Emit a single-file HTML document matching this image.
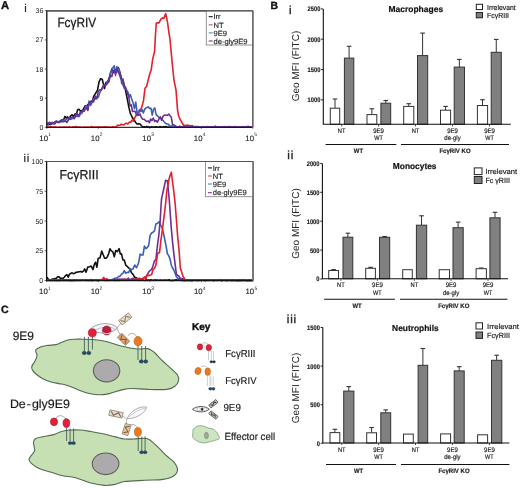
<!DOCTYPE html>
<html><head><meta charset="utf-8"><style>
html,body{margin:0;padding:0;background:#fff;width:520px;height:488px;overflow:hidden;font-family:"Liberation Sans",sans-serif;}
svg{display:block;filter:blur(0.3px);}
</style></head><body>
<svg width="520" height="488" viewBox="0 0 520 488" text-rendering="geometricPrecision">
<polyline points="46.80,123.82 48.07,124.63 49.33,124.28 50.60,124.49 52.13,123.43 53.67,123.49 55.20,121.81 56.44,121.07 57.68,122.20 58.92,121.81 60.16,121.88 61.40,120.07 62.62,120.11 63.84,119.12 65.06,116.43 66.28,118.11 67.50,116.95 69.07,119.44 70.63,115.80 72.20,114.78 73.70,116.21 75.20,113.83 76.47,113.56 77.73,109.66 79.00,109.25 80.33,111.15 81.67,110.73 83.00,109.86 85.20,105.70 86.47,107.21 87.73,104.63 89.00,104.27 90.60,101.62 92.20,101.98 93.70,96.44 95.20,93.94 97.50,90.26 99.05,81.83 100.60,78.72 102.20,79.31 104.50,88.53 106.00,82.40 107.50,82.43 109.05,78.60 110.60,72.89 112.15,68.56 113.70,72.51 115.23,69.51 116.77,71.97 118.30,67.55 119.90,72.24 121.50,78.75 123.50,86.13 125.00,87.65 127.00,97.59 129.00,107.91 130.25,113.06 131.50,115.74 132.75,118.39 134.00,119.46 135.50,122.31 137.00,123.94 138.50,123.67 140.00,124.04 141.50,125.71 143.00,127.11 144.21,126.90 145.42,127.12 146.63,126.36 147.84,127.18 149.06,126.90 150.27,127.22 151.48,126.80 152.69,126.94 153.90,127.02 155.11,127.09 156.32,126.85 157.53,127.03 158.74,127.19 159.96,126.60 161.17,127.16 162.38,127.06 163.59,126.65 164.80,126.99 166.01,126.53 167.22,127.29 168.43,126.94 169.64,127.30 170.86,127.25 172.07,127.23 173.28,127.23 174.49,126.92 175.70,126.49 176.91,127.11 178.12,127.21 179.33,126.66 180.54,126.60 181.76,127.18 182.97,126.90 184.18,127.07 185.39,127.08 186.60,127.16 187.81,126.80 189.02,127.09 190.23,127.21 191.44,126.89 192.66,126.98 193.87,127.18 195.08,126.91 196.29,126.98 197.50,126.67 198.71,127.25 199.92,127.26 201.13,127.21 202.34,127.00 203.56,126.69 204.77,127.25 205.98,127.17 207.19,127.09 208.40,126.99 209.61,126.71 210.82,127.01 212.03,127.17 213.24,126.91 214.46,126.94 215.67,126.29 216.88,127.20 218.09,127.25 219.30,126.74 220.51,127.12 221.72,127.19 222.93,127.09 224.14,127.17 225.36,127.27 226.57,126.83 227.78,127.12 228.99,127.02 230.20,127.14 231.41,127.06 232.62,126.98 233.83,126.95 235.04,126.60 236.26,127.09 237.47,127.01 238.68,126.97 239.89,127.22 241.10,127.24 242.31,126.67 243.52,126.99 244.73,127.14 245.94,126.66 247.16,127.04 248.37,126.89 249.58,127.23 250.79,126.97 252.00,127.08" fill="none" stroke="#111" stroke-width="1.6" stroke-linejoin="round"/>
<polyline points="46.80,126.92 48.01,127.30 49.22,126.83 50.43,126.85 51.64,126.86 52.85,127.23 54.05,127.04 55.26,126.92 56.47,127.10 57.68,127.21 58.89,127.30 60.10,127.16 61.31,127.21 62.52,127.26 63.73,127.04 64.94,127.12 66.15,127.17 67.35,127.27 68.56,127.06 69.77,126.91 70.98,127.25 72.19,127.12 73.40,126.83 74.61,127.12 75.82,126.56 77.03,126.75 78.24,127.17 79.45,126.92 80.65,127.13 81.86,127.20 83.07,127.24 84.28,126.93 85.49,127.09 86.70,127.23 87.91,127.16 89.12,127.19 90.33,126.98 91.54,126.52 92.75,127.20 93.95,127.08 95.16,127.11 96.37,126.96 97.58,127.27 98.79,126.77 100.00,127.24 101.25,127.06 102.50,127.12 103.75,127.02 105.00,126.86 106.25,126.92 107.50,127.26 108.75,126.96 110.00,127.09 111.25,127.18 112.50,126.85 113.75,127.04 115.00,127.17 116.23,126.73 117.47,125.23 118.70,125.35 119.93,125.31 121.17,124.20 122.40,124.61 123.78,124.89 125.15,123.86 126.53,123.30 127.90,124.03 129.30,122.12 130.70,122.21 132.10,120.02 133.50,121.22 134.83,117.65 136.17,115.18 137.50,115.45 138.70,112.75 139.90,110.61 141.70,107.45 143.50,100.58 145.05,87.97 146.60,86.52 148.15,80.13 149.70,74.00 151.20,69.95 152.70,59.12 154.60,51.19 155.50,34.22 156.30,22.98 157.53,22.74 158.75,23.00 161.00,19.07 162.38,17.90 163.75,18.41 165.75,13.59 167.50,22.14 168.75,31.50 170.00,39.20 172.20,63.11 174.00,80.37 176.00,89.93 177.50,109.57 178.50,115.50 180.00,119.22 181.25,121.40 182.50,123.52 183.75,125.63 185.00,125.21 186.25,125.73 187.50,125.07 188.75,125.70 190.00,125.56 191.25,125.86 192.50,125.63 193.75,126.53 195.00,127.17 196.25,126.51 197.50,126.71 198.75,126.78 200.00,127.03 201.21,127.14 202.42,126.87 203.63,127.00 204.84,127.05 206.05,127.29 207.26,126.95 208.47,127.17 209.67,127.18 210.88,126.70 212.09,126.97 213.30,126.74 214.51,126.61 215.72,127.27 216.93,127.23 218.14,126.97 219.35,126.79 220.56,127.23 221.77,126.89 222.98,127.06 224.19,127.00 225.40,127.22 226.60,127.04 227.81,126.91 229.02,127.23 230.23,126.69 231.44,127.12 232.65,126.69 233.86,127.02 235.07,127.23 236.28,127.06 237.49,127.03 238.70,127.28 239.91,126.83 241.12,127.07 242.33,126.89 243.53,127.07 244.74,127.23 245.95,127.16 247.16,126.54 248.37,126.34 249.58,127.08 250.79,127.01 252.00,127.16" fill="none" stroke="#e3202c" stroke-width="1.6" stroke-linejoin="round"/>
<polyline points="46.80,123.58 48.00,124.31 49.20,122.29 50.40,123.71 51.60,122.42 52.80,122.20 54.00,123.94 55.20,122.15 56.50,121.79 57.80,122.36 59.10,122.59 60.40,121.30 61.70,121.75 63.00,120.01 64.27,120.39 65.53,120.07 66.80,118.87 68.07,118.42 69.33,118.02 70.60,119.33 71.84,118.78 73.08,117.96 74.32,117.83 75.56,115.32 76.80,116.39 78.04,116.25 79.28,116.43 80.52,113.39 81.76,113.46 83.00,110.17 84.20,111.06 85.40,106.21 86.60,105.97 87.80,109.74 89.00,100.99 90.57,105.48 92.13,102.38 93.70,98.92 95.23,99.07 96.77,97.69 98.30,97.28 99.87,92.43 101.43,89.57 103.00,87.48 104.50,84.61 106.00,84.64 107.50,80.98 109.05,81.93 110.60,72.42 111.80,70.66 113.00,67.52 114.27,65.83 115.53,75.36 116.80,66.74 119.00,69.78 120.50,75.75 121.73,83.58 122.97,78.70 124.20,88.44 125.43,86.97 126.67,90.69 127.90,92.03 129.13,96.73 130.37,94.68 131.60,98.83 133.00,102.57 134.40,108.62 135.75,102.10 137.10,113.07 138.33,112.22 139.57,109.78 140.80,111.57 142.03,109.51 143.27,113.05 144.50,109.62 145.73,108.12 146.97,107.45 148.20,106.86 149.60,108.34 151.00,108.39 152.23,115.12 153.47,109.25 154.70,107.93 156.23,114.85 157.77,116.06 159.30,117.99 160.83,118.49 162.37,119.80 163.90,121.53 165.70,123.56 167.50,123.92 168.75,124.50 170.00,126.53 171.25,126.10 172.50,125.73 173.75,127.23 175.00,127.05 176.20,126.99 177.41,127.00 178.61,127.07 179.81,126.71 181.02,127.18 182.22,127.11 183.42,127.19 184.62,126.68 185.83,126.90 187.03,126.81 188.23,127.20 189.44,127.15 190.64,127.14 191.84,126.70 193.05,127.26 194.25,126.98 195.45,126.98 196.66,127.12 197.86,126.64 199.06,126.88 200.27,127.28 201.47,127.27 202.67,126.62 203.88,127.05 205.08,126.93 206.28,127.27 207.48,126.54 208.69,127.05 209.89,127.20 211.09,126.73 212.30,127.03 213.50,126.86 214.70,127.01 215.91,127.27 217.11,127.16 218.31,127.09 219.52,126.88 220.72,127.11 221.92,127.15 223.12,126.68 224.33,126.57 225.53,127.09 226.73,127.02 227.94,126.55 229.14,126.70 230.34,126.85 231.55,127.25 232.75,127.27 233.95,127.29 235.16,127.09 236.36,127.14 237.56,126.81 238.77,126.94 239.97,127.24 241.17,126.85 242.38,127.12 243.58,127.16 244.78,127.08 245.98,127.04 247.19,127.00 248.39,127.23 249.59,126.98 250.80,127.16 252.00,126.89" fill="none" stroke="#3b5fb5" stroke-width="1.6" stroke-linejoin="round"/>
<polyline points="46.80,123.03 48.17,123.31 49.53,122.44 50.90,123.05 52.27,123.47 53.63,122.94 55.00,123.88 56.33,121.54 57.67,122.23 59.00,121.35 60.33,121.09 61.67,121.49 63.00,121.71 64.27,121.42 65.53,121.04 66.80,122.46 68.07,120.48 69.33,117.11 70.60,118.75 71.84,117.21 73.08,116.82 74.32,118.77 75.56,116.19 76.80,113.19 78.04,115.77 79.28,114.15 80.52,112.00 81.76,111.65 83.00,111.41 84.20,110.96 85.40,108.65 86.60,108.15 87.80,110.51 89.00,103.25 90.57,101.40 92.13,100.79 93.70,101.89 95.23,96.12 96.77,98.97 98.30,91.14 99.87,89.74 101.43,89.88 103.00,86.11 104.50,84.65 106.00,84.99 107.50,83.58 109.05,79.25 110.60,75.40 111.80,76.44 113.00,71.88 114.27,70.49 115.53,73.65 116.80,69.03 119.00,73.36 120.75,78.19 122.50,80.48 123.75,82.58 125.00,87.93 126.25,89.32 127.50,93.37 128.75,96.60 130.00,105.85 131.25,104.92 132.50,111.58 133.75,111.23 135.00,111.28 136.25,114.13 137.50,114.44 138.75,115.20 140.00,114.02 141.25,117.10 142.50,119.14 143.93,119.22 145.35,120.41 146.77,121.53 148.20,120.93 149.43,122.67 150.67,119.13 151.90,120.55 153.28,118.05 154.65,121.41 156.03,120.53 157.40,122.11 158.80,119.31 160.20,116.78 161.60,120.14 163.00,116.30 164.50,115.00 166.00,115.24 167.50,115.25 168.75,114.09 170.00,115.78 171.25,117.06 172.50,124.46 174.25,125.11 176.00,126.51 177.21,127.17 178.41,127.26 179.62,126.42 180.83,127.14 182.03,127.25 183.24,127.21 184.44,127.15 185.65,127.19 186.86,126.79 188.06,127.20 189.27,127.10 190.48,127.22 191.68,127.00 192.89,126.96 194.10,127.28 195.30,126.50 196.51,127.29 197.71,127.27 198.92,127.25 200.13,127.27 201.33,127.18 202.54,127.18 203.75,127.08 204.95,126.73 206.16,126.98 207.37,126.99 208.57,127.13 209.78,127.14 210.98,127.15 212.19,127.02 213.40,126.83 214.60,126.92 215.81,126.88 217.02,127.22 218.22,127.21 219.43,127.28 220.63,126.96 221.84,127.07 223.05,126.98 224.25,126.94 225.46,127.09 226.67,127.05 227.87,127.25 229.08,126.88 230.29,126.63 231.49,127.26 232.70,127.23 233.90,127.17 235.11,126.97 236.32,127.21 237.52,127.23 238.73,127.01 239.94,127.26 241.14,126.90 242.35,127.15 243.56,127.27 244.76,126.93 245.97,126.98 247.17,126.98 248.38,127.02 249.59,126.67 250.79,127.02 252.00,127.28" fill="none" stroke="#6b2f95" stroke-width="1.6" stroke-linejoin="round"/>
<line x1="46.80" y1="10.20" x2="46.80" y2="127.90" stroke="#111" stroke-width="1.3"/>
<line x1="46.20" y1="127.30" x2="252.80" y2="127.30" stroke="#111" stroke-opacity="0.85" stroke-width="1.3"/>
<line x1="46.80" y1="10.80" x2="252.80" y2="10.80" stroke="#555" stroke-width="1.2"/>
<line x1="252.80" y1="10.80" x2="252.80" y2="127.30" stroke="#666" stroke-width="1.3"/>
<line x1="44.80" y1="10.80" x2="46.80" y2="10.80" stroke="#222" stroke-width="0.7"/>
<text x="43.40" y="13.30" font-size="7.0" text-anchor="end" fill="#222" font-family="Liberation Sans, sans-serif">36</text>
<line x1="44.80" y1="39.92" x2="46.80" y2="39.92" stroke="#222" stroke-width="0.7"/>
<text x="43.40" y="42.42" font-size="7.0" text-anchor="end" fill="#222" font-family="Liberation Sans, sans-serif">27</text>
<line x1="44.80" y1="69.05" x2="46.80" y2="69.05" stroke="#222" stroke-width="0.7"/>
<text x="43.40" y="71.55" font-size="7.0" text-anchor="end" fill="#222" font-family="Liberation Sans, sans-serif">18</text>
<line x1="44.80" y1="98.17" x2="46.80" y2="98.17" stroke="#222" stroke-width="0.7"/>
<text x="43.40" y="100.67" font-size="7.0" text-anchor="end" fill="#222" font-family="Liberation Sans, sans-serif">9</text>
<line x1="44.80" y1="127.30" x2="46.80" y2="127.30" stroke="#222" stroke-width="0.7"/>
<text x="43.40" y="129.80" font-size="7.0" text-anchor="end" fill="#222" font-family="Liberation Sans, sans-serif">0</text>
<text x="48.00" y="140.90" font-size="7.8" text-anchor="end" fill="#222" stroke="#222" stroke-width="0.12" font-family="Liberation Sans, sans-serif">10</text>
<text x="48.20" y="136.30" font-size="4.9" fill="#222" font-family="Liberation Sans, sans-serif">1</text>
<line x1="46.80" y1="127.30" x2="46.80" y2="128.90" stroke="#222" stroke-width="0.6"/>
<text x="99.50" y="140.90" font-size="7.8" text-anchor="end" fill="#222" stroke="#222" stroke-width="0.12" font-family="Liberation Sans, sans-serif">10</text>
<text x="99.70" y="136.30" font-size="4.9" fill="#222" font-family="Liberation Sans, sans-serif">2</text>
<line x1="98.30" y1="127.30" x2="98.30" y2="128.90" stroke="#222" stroke-width="0.6"/>
<text x="151.00" y="140.90" font-size="7.8" text-anchor="end" fill="#222" stroke="#222" stroke-width="0.12" font-family="Liberation Sans, sans-serif">10</text>
<text x="151.20" y="136.30" font-size="4.9" fill="#222" font-family="Liberation Sans, sans-serif">3</text>
<line x1="149.80" y1="127.30" x2="149.80" y2="128.90" stroke="#222" stroke-width="0.6"/>
<text x="202.50" y="140.90" font-size="7.8" text-anchor="end" fill="#222" stroke="#222" stroke-width="0.12" font-family="Liberation Sans, sans-serif">10</text>
<text x="202.70" y="136.30" font-size="4.9" fill="#222" font-family="Liberation Sans, sans-serif">4</text>
<line x1="201.30" y1="127.30" x2="201.30" y2="128.90" stroke="#222" stroke-width="0.6"/>
<text x="254.00" y="140.90" font-size="7.8" text-anchor="end" fill="#222" stroke="#222" stroke-width="0.12" font-family="Liberation Sans, sans-serif">10</text>
<text x="254.20" y="136.30" font-size="4.9" fill="#222" font-family="Liberation Sans, sans-serif">5</text>
<line x1="252.80" y1="127.30" x2="252.80" y2="128.90" stroke="#222" stroke-width="0.6"/>
<rect x="206.30" y="10.80" width="46.50" height="34.20" fill="#fff" stroke="#8a8a8a" stroke-width="0.9"/>
<line x1="208.70" y1="16.70" x2="212.70" y2="16.70" stroke="#111" stroke-width="1.1"/>
<text x="213.50" y="19.40" font-size="7.55" fill="#222" stroke="#222" stroke-width="0.15" font-family="Liberation Sans, sans-serif">Irr</text>
<line x1="208.70" y1="24.80" x2="212.70" y2="24.80" stroke="#e0505a" stroke-width="1.1"/>
<text x="213.50" y="27.50" font-size="7.55" fill="#222" stroke="#222" stroke-width="0.15" font-family="Liberation Sans, sans-serif">NT</text>
<line x1="208.70" y1="32.90" x2="212.70" y2="32.90" stroke="#5a80c0" stroke-width="1.1"/>
<text x="213.50" y="35.60" font-size="7.55" fill="#222" stroke="#222" stroke-width="0.15" font-family="Liberation Sans, sans-serif">9E9</text>
<line x1="208.70" y1="41.00" x2="212.70" y2="41.00" stroke="#7a3a90" stroke-width="1.1"/>
<text x="213.50" y="43.70" font-size="7.55" fill="#222" stroke="#222" stroke-width="0.15" font-family="Liberation Sans, sans-serif">de-gly9E9</text>
<line x1="252.80" y1="10.80" x2="252.80" y2="127.30" stroke="#666" stroke-width="1.3"/>
<line x1="46.80" y1="10.80" x2="252.80" y2="10.80" stroke="#555" stroke-width="1.2"/>
<text x="57.40" y="26.50" font-size="13.40" fill="#1a1a1a" textLength="38.80" lengthAdjust="spacingAndGlyphs" font-family="Liberation Sans, sans-serif" stroke="#1a1a1a" stroke-width="0.25">Fc&#947;RIV</text>
<text x="24.20" y="12.20" font-size="11.2" letter-spacing="0.9" fill="#222" stroke="#222" stroke-width="0.2" font-family="Liberation Sans, sans-serif">i</text>
<polyline points="46.80,277.16 48.27,279.07 49.73,280.21 51.20,279.94 52.50,279.03 53.80,278.96 55.10,278.57 56.40,278.30 57.73,276.75 59.05,276.83 60.38,278.37 61.70,278.33 63.00,278.38 64.30,277.26 65.60,275.58 66.90,274.64 68.20,277.18 69.50,274.16 70.80,273.43 72.10,272.83 73.40,273.65 74.70,273.26 76.00,272.25 77.30,272.13 79.05,271.69 80.80,271.42 82.10,272.16 83.40,271.22 84.70,268.90 86.00,272.28 87.75,267.15 89.50,266.72 91.25,266.06 93.00,269.60 94.30,264.34 95.60,262.24 96.90,267.26 98.20,258.19 99.95,257.99 101.70,251.11 103.17,254.80 104.63,258.31 106.10,258.10 107.40,256.68 108.70,253.66 110.00,248.80 111.30,250.83 112.90,251.93 114.30,256.74 115.70,250.50 117.40,251.65 119.10,248.71 120.30,254.03 121.50,253.88 122.90,259.88 124.30,259.93 125.75,265.22 127.20,266.31 128.65,267.92 130.10,269.14 131.55,272.92 133.00,274.29 134.75,277.37 136.50,277.84 137.75,279.62 139.00,280.44 140.20,279.94 141.40,279.28 142.61,280.11 143.81,280.30 145.01,280.44 146.21,279.75 147.41,280.46 148.62,279.96 149.82,280.29 151.02,279.75 152.22,280.18 153.43,280.07 154.63,279.92 155.83,280.09 157.03,279.96 158.23,280.19 159.44,280.20 160.64,280.15 161.84,280.26 163.04,280.26 164.24,280.08 165.45,280.26 166.65,280.06 167.85,280.26 169.05,279.78 170.26,280.47 171.46,280.45 172.66,280.16 173.86,280.46 175.06,280.04 176.27,279.88 177.47,280.26 178.67,280.00 179.87,280.21 181.07,280.03 182.28,280.41 183.48,280.25 184.68,280.47 185.88,280.37 187.09,280.11 188.29,279.91 189.49,279.98 190.69,280.50 191.89,280.45 193.10,280.33 194.30,280.00 195.50,280.44 196.70,280.30 197.90,280.07 199.11,280.21 200.31,279.81 201.51,280.24 202.71,280.26 203.91,280.04 205.12,280.38 206.32,280.15 207.52,280.23 208.72,279.77 209.93,280.25 211.13,280.26 212.33,280.24 213.53,280.35 214.73,280.23 215.94,280.19 217.14,280.15 218.34,279.92 219.54,280.29 220.74,279.67 221.95,280.46 223.15,280.29 224.35,280.23 225.55,280.41 226.76,280.42 227.96,280.15 229.16,280.21 230.36,280.21 231.56,280.23 232.77,279.89 233.97,280.12 235.17,280.46 236.37,280.42 237.57,280.46 238.78,280.43 239.98,280.43 241.18,280.38 242.38,280.06 243.59,280.28 244.79,279.92 245.99,280.31 247.19,280.48 248.39,280.42 249.60,280.48 250.80,280.38 252.00,280.27" fill="none" stroke="#111" stroke-width="1.6" stroke-linejoin="round"/>
<polyline points="46.80,280.38 48.01,280.07 49.22,280.04 50.44,280.17 51.65,279.84 52.86,280.33 54.07,280.45 55.29,280.24 56.50,280.49 57.71,280.37 58.92,280.35 60.14,280.17 61.35,280.46 62.56,280.15 63.77,279.98 64.99,280.37 66.20,279.96 67.41,280.09 68.62,279.79 69.84,279.72 71.05,280.40 72.26,280.07 73.47,280.33 74.69,280.01 75.90,280.04 77.11,280.36 78.32,280.40 79.54,280.22 80.75,280.17 81.96,280.33 83.17,280.10 84.39,280.23 85.60,279.65 86.81,280.46 88.03,280.36 89.24,280.42 90.45,280.47 91.66,280.48 92.88,280.34 94.09,280.35 95.30,279.81 96.51,279.86 97.72,280.50 98.94,280.07 100.15,280.28 101.36,280.22 102.58,280.02 103.79,280.35 105.00,279.93 106.25,280.27 107.50,280.31 108.75,280.11 110.00,280.49 111.20,280.32 112.40,279.27 113.60,279.07 114.80,278.19 116.00,278.00 117.20,277.74 118.62,276.54 120.04,276.14 121.46,274.26 122.88,273.35 124.30,270.57 125.77,273.24 127.23,272.34 128.70,272.51 130.13,268.66 131.57,269.72 133.00,268.86 134.75,265.00 136.50,267.69 138.70,262.47 140.13,254.05 141.57,255.01 143.00,255.00 144.43,246.05 145.87,248.56 147.30,247.50 148.73,245.25 150.17,235.18 151.60,232.98 153.05,232.22 154.50,230.84 155.90,223.90 157.30,223.58 159.10,221.71 160.90,225.62 162.30,228.21 164.50,238.04 165.95,245.40 167.40,253.75 168.70,255.64 170.00,259.01 171.30,265.21 172.55,268.03 173.80,270.04 175.10,273.21 176.40,276.75 177.70,278.18 179.13,278.68 180.57,279.87 182.00,280.43 183.21,279.89 184.41,280.47 185.62,280.49 186.83,280.23 188.03,280.45 189.24,280.09 190.45,279.78 191.66,280.49 192.86,279.82 194.07,280.28 195.28,280.21 196.48,279.91 197.69,280.47 198.90,280.23 200.10,280.47 201.31,279.77 202.52,280.32 203.72,280.28 204.93,280.45 206.14,280.22 207.34,280.22 208.55,280.33 209.76,280.07 210.97,279.87 212.17,280.36 213.38,280.43 214.59,280.35 215.79,280.25 217.00,280.34 218.21,280.19 219.41,280.23 220.62,279.84 221.83,280.41 223.03,280.37 224.24,279.94 225.45,280.28 226.66,280.20 227.86,280.43 229.07,280.48 230.28,280.37 231.48,280.35 232.69,280.39 233.90,280.33 235.10,280.11 236.31,280.36 237.52,280.26 238.72,280.38 239.93,280.02 241.14,280.46 242.34,280.48 243.55,280.07 244.76,280.12 245.97,280.48 247.17,280.48 248.38,280.18 249.59,280.48 250.79,280.39 252.00,280.39" fill="none" stroke="#3b5fb5" stroke-width="1.6" stroke-linejoin="round"/>
<polyline points="46.80,280.06 48.01,280.04 49.22,280.03 50.43,280.38 51.64,280.44 52.85,280.42 54.05,280.21 55.26,280.27 56.47,280.24 57.68,280.47 58.89,280.48 60.10,279.92 61.31,280.31 62.52,280.07 63.73,280.49 64.94,280.23 66.15,279.61 67.35,280.49 68.56,279.97 69.77,280.49 70.98,280.49 72.19,280.24 73.40,280.49 74.61,279.70 75.82,280.44 77.03,279.94 78.24,280.10 79.45,280.20 80.65,280.27 81.86,280.04 83.07,279.82 84.28,280.31 85.49,280.47 86.70,279.89 87.91,280.33 89.12,280.25 90.33,279.62 91.54,279.84 92.75,280.40 93.95,279.80 95.16,280.24 96.37,280.16 97.58,280.34 98.79,279.95 100.00,280.21 101.23,280.03 102.46,280.25 103.69,280.14 104.91,280.43 106.14,280.47 107.37,280.42 108.60,280.24 109.83,280.20 111.06,279.73 112.29,279.70 113.51,279.83 114.74,279.01 115.97,279.86 117.20,279.12 118.43,279.51 119.66,279.00 120.89,279.59 122.11,279.26 123.34,279.27 124.57,278.94 125.80,279.37 127.03,280.16 128.26,278.15 129.49,279.43 130.71,279.21 131.94,278.79 133.17,278.20 134.40,279.85 135.63,278.96 136.86,279.40 138.09,278.50 139.31,278.20 140.54,279.29 141.77,279.02 143.00,278.31 144.50,277.18 146.00,276.68 147.50,274.26 148.87,271.77 150.23,270.35 151.60,269.62 153.03,265.84 154.47,260.84 155.90,259.49 157.35,246.24 158.80,235.46 160.20,220.02 161.50,198.95 163.60,189.49 165.60,180.40 167.40,180.77 169.20,199.00 171.30,228.20 172.55,242.00 173.80,253.67 175.10,263.87 176.40,274.34 177.70,275.40 179.00,276.27 180.30,278.55 181.87,278.60 183.43,279.17 185.00,280.18 186.22,280.23 187.44,280.32 188.65,280.33 189.87,280.48 191.09,280.23 192.31,280.33 193.53,280.30 194.75,279.91 195.96,280.12 197.18,280.42 198.40,280.47 199.62,280.26 200.84,280.02 202.05,280.14 203.27,280.01 204.49,280.28 205.71,280.39 206.93,280.48 208.15,280.01 209.36,280.44 210.58,280.29 211.80,280.13 213.02,280.12 214.24,280.14 215.45,280.18 216.67,279.92 217.89,280.40 219.11,280.26 220.33,280.17 221.55,280.36 222.76,280.23 223.98,280.28 225.20,280.06 226.42,280.04 227.64,279.99 228.85,280.38 230.07,279.75 231.29,280.30 232.51,280.46 233.73,279.97 234.95,280.43 236.16,280.00 237.38,280.46 238.60,279.90 239.82,279.85 241.04,280.21 242.25,279.94 243.47,280.09 244.69,280.44 245.91,280.33 247.13,280.42 248.35,279.86 249.56,280.10 250.78,280.37 252.00,280.17" fill="none" stroke="#6b2f95" stroke-width="1.6" stroke-linejoin="round"/>
<polyline points="46.80,280.19 48.01,280.39 49.22,280.17 50.43,280.49 51.64,280.14 52.85,280.26 54.05,280.02 55.26,280.40 56.47,280.38 57.68,280.29 58.89,280.00 60.10,280.47 61.31,279.99 62.52,280.19 63.73,280.37 64.94,280.10 66.15,280.42 67.35,280.29 68.56,280.42 69.77,280.34 70.98,280.22 72.19,280.48 73.40,280.19 74.61,280.46 75.82,280.48 77.03,280.32 78.24,280.28 79.45,280.39 80.65,280.14 81.86,280.35 83.07,279.73 84.28,279.96 85.49,280.50 86.70,280.30 87.91,280.17 89.12,279.97 90.33,280.08 91.54,280.50 92.75,280.11 93.95,280.10 95.16,279.98 96.37,280.44 97.58,280.07 98.79,280.48 100.00,280.15 101.25,280.09 102.50,279.28 103.75,277.44 105.00,279.44 106.25,278.87 107.50,279.17 108.75,280.39 110.00,280.26 111.24,280.04 112.48,280.06 113.71,280.42 114.95,280.36 116.19,280.21 117.43,280.47 118.67,280.19 119.90,280.35 121.14,280.05 122.38,279.23 123.62,280.02 124.86,279.77 126.09,280.18 127.33,278.80 128.57,280.09 129.81,279.97 131.04,279.76 132.28,279.65 133.52,280.00 134.76,279.59 136.00,279.16 137.23,278.50 138.47,279.64 139.71,279.49 140.95,279.00 142.19,278.84 143.42,279.14 144.66,276.97 145.90,278.74 147.32,275.05 148.75,275.72 150.18,275.09 151.60,274.70 153.03,269.42 154.47,268.37 155.90,265.16 157.70,253.23 159.50,252.63 160.95,240.17 162.40,229.56 164.50,213.02 165.70,202.52 166.90,190.29 169.20,178.34 171.30,172.26 173.10,185.84 175.10,202.80 176.40,219.77 177.70,236.89 179.00,249.31 180.30,267.93 181.55,271.81 182.80,275.71 184.10,278.08 185.40,279.94 186.70,280.31 187.91,280.27 189.12,280.34 190.33,280.31 191.54,280.24 192.75,280.43 193.96,279.89 195.16,280.32 196.37,280.32 197.58,279.70 198.79,280.22 200.00,280.30 201.21,279.98 202.42,279.97 203.63,280.42 204.84,280.34 206.05,280.07 207.26,279.98 208.47,280.02 209.68,280.11 210.89,280.09 212.09,280.25 213.30,280.47 214.51,280.14 215.72,280.25 216.93,280.26 218.14,279.99 219.35,280.13 220.56,280.39 221.77,280.29 222.98,280.47 224.19,279.57 225.40,280.39 226.61,280.48 227.81,280.14 229.02,279.89 230.23,280.36 231.44,280.20 232.65,280.47 233.86,280.20 235.07,280.04 236.28,279.97 237.49,280.38 238.70,280.29 239.91,280.44 241.12,280.45 242.33,280.48 243.54,280.45 244.74,280.40 245.95,280.32 247.16,280.44 248.37,280.21 249.58,280.42 250.79,280.29 252.00,280.24" fill="none" stroke="#e3202c" stroke-width="1.6" stroke-linejoin="round"/>
<line x1="46.60" y1="160.90" x2="46.60" y2="281.10" stroke="#111" stroke-width="1.3"/>
<line x1="46.00" y1="280.50" x2="253.00" y2="280.50" stroke="#111" stroke-opacity="1.00" stroke-width="1.3"/>
<line x1="46.60" y1="161.50" x2="253.00" y2="161.50" stroke="#555" stroke-width="1.2"/>
<line x1="253.00" y1="161.50" x2="253.00" y2="280.50" stroke="#666" stroke-width="1.3"/>
<line x1="44.60" y1="161.50" x2="46.60" y2="161.50" stroke="#222" stroke-width="0.7"/>
<text x="43.20" y="164.00" font-size="7.0" text-anchor="end" fill="#222" font-family="Liberation Sans, sans-serif">100</text>
<line x1="44.60" y1="191.25" x2="46.60" y2="191.25" stroke="#222" stroke-width="0.7"/>
<text x="43.20" y="193.75" font-size="7.0" text-anchor="end" fill="#222" font-family="Liberation Sans, sans-serif">75</text>
<line x1="44.60" y1="221.00" x2="46.60" y2="221.00" stroke="#222" stroke-width="0.7"/>
<text x="43.20" y="223.50" font-size="7.0" text-anchor="end" fill="#222" font-family="Liberation Sans, sans-serif">50</text>
<line x1="44.60" y1="250.75" x2="46.60" y2="250.75" stroke="#222" stroke-width="0.7"/>
<text x="43.20" y="253.25" font-size="7.0" text-anchor="end" fill="#222" font-family="Liberation Sans, sans-serif">25</text>
<line x1="44.60" y1="280.50" x2="46.60" y2="280.50" stroke="#222" stroke-width="0.7"/>
<text x="43.20" y="283.00" font-size="7.0" text-anchor="end" fill="#222" font-family="Liberation Sans, sans-serif">0</text>
<text x="47.80" y="294.10" font-size="7.8" text-anchor="end" fill="#222" stroke="#222" stroke-width="0.12" font-family="Liberation Sans, sans-serif">10</text>
<text x="48.00" y="289.50" font-size="4.9" fill="#222" font-family="Liberation Sans, sans-serif">1</text>
<line x1="46.60" y1="280.50" x2="46.60" y2="282.10" stroke="#222" stroke-width="0.6"/>
<text x="99.40" y="294.10" font-size="7.8" text-anchor="end" fill="#222" stroke="#222" stroke-width="0.12" font-family="Liberation Sans, sans-serif">10</text>
<text x="99.60" y="289.50" font-size="4.9" fill="#222" font-family="Liberation Sans, sans-serif">2</text>
<line x1="98.20" y1="280.50" x2="98.20" y2="282.10" stroke="#222" stroke-width="0.6"/>
<text x="151.00" y="294.10" font-size="7.8" text-anchor="end" fill="#222" stroke="#222" stroke-width="0.12" font-family="Liberation Sans, sans-serif">10</text>
<text x="151.20" y="289.50" font-size="4.9" fill="#222" font-family="Liberation Sans, sans-serif">3</text>
<line x1="149.80" y1="280.50" x2="149.80" y2="282.10" stroke="#222" stroke-width="0.6"/>
<text x="202.60" y="294.10" font-size="7.8" text-anchor="end" fill="#222" stroke="#222" stroke-width="0.12" font-family="Liberation Sans, sans-serif">10</text>
<text x="202.80" y="289.50" font-size="4.9" fill="#222" font-family="Liberation Sans, sans-serif">4</text>
<line x1="201.40" y1="280.50" x2="201.40" y2="282.10" stroke="#222" stroke-width="0.6"/>
<text x="254.20" y="294.10" font-size="7.8" text-anchor="end" fill="#222" stroke="#222" stroke-width="0.12" font-family="Liberation Sans, sans-serif">10</text>
<text x="254.40" y="289.50" font-size="4.9" fill="#222" font-family="Liberation Sans, sans-serif">5</text>
<line x1="253.00" y1="280.50" x2="253.00" y2="282.10" stroke="#222" stroke-width="0.6"/>
<rect x="205.50" y="161.50" width="47.50" height="35.20" fill="#fff" stroke="#8a8a8a" stroke-width="0.9"/>
<line x1="207.90" y1="167.90" x2="211.90" y2="167.90" stroke="#111" stroke-width="1.1"/>
<text x="212.70" y="170.60" font-size="7.55" fill="#222" stroke="#222" stroke-width="0.15" font-family="Liberation Sans, sans-serif">Irr</text>
<line x1="207.90" y1="176.00" x2="211.90" y2="176.00" stroke="#e0505a" stroke-width="1.1"/>
<text x="212.70" y="178.70" font-size="7.55" fill="#222" stroke="#222" stroke-width="0.15" font-family="Liberation Sans, sans-serif">NT</text>
<line x1="207.90" y1="184.00" x2="211.90" y2="184.00" stroke="#5a80c0" stroke-width="1.1"/>
<text x="212.70" y="186.70" font-size="7.55" fill="#222" stroke="#222" stroke-width="0.15" font-family="Liberation Sans, sans-serif">9E9</text>
<line x1="207.90" y1="192.70" x2="211.90" y2="192.70" stroke="#7a3a90" stroke-width="1.1"/>
<text x="212.70" y="195.40" font-size="7.55" fill="#222" stroke="#222" stroke-width="0.15" font-family="Liberation Sans, sans-serif">de-gly9E9</text>
<line x1="253.00" y1="161.50" x2="253.00" y2="280.50" stroke="#666" stroke-width="1.3"/>
<line x1="46.60" y1="161.50" x2="253.00" y2="161.50" stroke="#555" stroke-width="1.2"/>
<text x="59.50" y="179.40" font-size="13.00" fill="#1a1a1a" textLength="39.10" lengthAdjust="spacingAndGlyphs" font-family="Liberation Sans, sans-serif" stroke="#1a1a1a" stroke-width="0.25">Fc&#947;RIII</text>
<text x="23.40" y="161.70" font-size="11.2" letter-spacing="0.9" fill="#222" stroke="#222" stroke-width="0.2" font-family="Liberation Sans, sans-serif">ii</text>
<text x="1.0" y="9.4" font-size="11.2" font-weight="bold" fill="#111" stroke="#111" stroke-width="0.35" font-family="Liberation Sans, sans-serif">A</text>
<text x="270.4" y="8.8" font-size="10.4" font-weight="bold" fill="#111" stroke="#111" stroke-width="0.35" font-family="Liberation Sans, sans-serif">B</text>
<text x="1.1" y="313.3" font-size="10.6" font-weight="bold" fill="#111" stroke="#111" stroke-width="0.35" font-family="Liberation Sans, sans-serif">C</text>
<line x1="323.30" y1="8.90" x2="323.30" y2="124.30" stroke="#111" stroke-width="1.1"/>
<line x1="321.10" y1="8.90" x2="323.30" y2="8.90" stroke="#111" stroke-width="0.9"/>
<text x="307.60" y="11.30" font-size="6.60" font-weight="bold" fill="#222" textLength="12.80" lengthAdjust="spacingAndGlyphs" font-family="Liberation Sans, sans-serif" stroke="#222" stroke-width="0.18">2500</text>
<line x1="321.10" y1="39.20" x2="323.30" y2="39.20" stroke="#111" stroke-width="0.9"/>
<text x="307.60" y="41.60" font-size="6.60" font-weight="bold" fill="#222" textLength="12.80" lengthAdjust="spacingAndGlyphs" font-family="Liberation Sans, sans-serif" stroke="#222" stroke-width="0.18">2000</text>
<line x1="321.10" y1="69.50" x2="323.30" y2="69.50" stroke="#111" stroke-width="0.9"/>
<text x="307.60" y="71.90" font-size="6.60" font-weight="bold" fill="#222" textLength="12.80" lengthAdjust="spacingAndGlyphs" font-family="Liberation Sans, sans-serif" stroke="#222" stroke-width="0.18">1500</text>
<line x1="321.10" y1="99.80" x2="323.30" y2="99.80" stroke="#111" stroke-width="0.9"/>
<text x="307.60" y="102.20" font-size="6.60" font-weight="bold" fill="#222" textLength="12.80" lengthAdjust="spacingAndGlyphs" font-family="Liberation Sans, sans-serif" stroke="#222" stroke-width="0.18">1000</text>
<line x1="335.00" y1="108.20" x2="335.00" y2="99.00" stroke="#333" stroke-width="1.0"/>
<line x1="332.70" y1="99.00" x2="337.30" y2="99.00" stroke="#333" stroke-width="1.1"/>
<rect x="330.30" y="108.20" width="9.40" height="16.10" fill="#fff" stroke="#333" stroke-width="1.0"/>
<line x1="349.10" y1="58.10" x2="349.10" y2="46.30" stroke="#333" stroke-width="1.0"/>
<line x1="346.80" y1="46.30" x2="351.40" y2="46.30" stroke="#333" stroke-width="1.1"/>
<rect x="344.40" y="58.10" width="9.40" height="66.20" fill="#808080" stroke="#333" stroke-width="1.0"/>
<line x1="341.70" y1="124.30" x2="341.70" y2="126.30" stroke="#111" stroke-width="0.8"/>
<text x="337.85" y="133.00" font-size="6.60" fill="#222" textLength="7.70" lengthAdjust="spacingAndGlyphs" font-family="Liberation Sans, sans-serif" stroke="#222" stroke-width="0.18">NT</text>
<line x1="371.90" y1="114.60" x2="371.90" y2="108.80" stroke="#333" stroke-width="1.0"/>
<line x1="369.60" y1="108.80" x2="374.20" y2="108.80" stroke="#333" stroke-width="1.1"/>
<rect x="367.00" y="114.60" width="9.80" height="9.70" fill="#fff" stroke="#333" stroke-width="1.0"/>
<line x1="385.80" y1="103.20" x2="385.80" y2="100.50" stroke="#333" stroke-width="1.0"/>
<line x1="383.50" y1="100.50" x2="388.10" y2="100.50" stroke="#333" stroke-width="1.1"/>
<rect x="380.90" y="103.20" width="9.80" height="21.10" fill="#808080" stroke="#333" stroke-width="1.0"/>
<line x1="378.60" y1="124.30" x2="378.60" y2="126.30" stroke="#111" stroke-width="0.8"/>
<text x="373.25" y="133.00" font-size="6.60" fill="#222" textLength="10.70" lengthAdjust="spacingAndGlyphs" font-family="Liberation Sans, sans-serif" stroke="#222" stroke-width="0.18">9E9</text>
<text x="374.30" y="140.00" font-size="6.60" fill="#222" textLength="8.60" lengthAdjust="spacingAndGlyphs" font-family="Liberation Sans, sans-serif" stroke="#222" stroke-width="0.18">WT</text>
<line x1="408.75" y1="106.40" x2="408.75" y2="103.70" stroke="#333" stroke-width="1.0"/>
<line x1="406.45" y1="103.70" x2="411.05" y2="103.70" stroke="#333" stroke-width="1.1"/>
<rect x="403.70" y="106.40" width="10.10" height="17.90" fill="#fff" stroke="#333" stroke-width="1.0"/>
<line x1="422.60" y1="55.60" x2="422.60" y2="33.10" stroke="#333" stroke-width="1.0"/>
<line x1="420.30" y1="33.10" x2="424.90" y2="33.10" stroke="#333" stroke-width="1.1"/>
<rect x="417.50" y="55.60" width="10.20" height="68.70" fill="#808080" stroke="#333" stroke-width="1.0"/>
<line x1="415.50" y1="124.30" x2="415.50" y2="126.30" stroke="#111" stroke-width="0.8"/>
<text x="411.65" y="133.00" font-size="6.60" fill="#222" textLength="7.70" lengthAdjust="spacingAndGlyphs" font-family="Liberation Sans, sans-serif" stroke="#222" stroke-width="0.18">NT</text>
<line x1="445.55" y1="110.20" x2="445.55" y2="106.40" stroke="#333" stroke-width="1.0"/>
<line x1="443.25" y1="106.40" x2="447.85" y2="106.40" stroke="#333" stroke-width="1.1"/>
<rect x="440.50" y="110.20" width="10.10" height="14.10" fill="#fff" stroke="#333" stroke-width="1.0"/>
<line x1="459.35" y1="67.10" x2="459.35" y2="59.40" stroke="#333" stroke-width="1.0"/>
<line x1="457.05" y1="59.40" x2="461.65" y2="59.40" stroke="#333" stroke-width="1.1"/>
<rect x="454.20" y="67.10" width="10.30" height="57.20" fill="#808080" stroke="#333" stroke-width="1.0"/>
<line x1="452.50" y1="124.30" x2="452.50" y2="126.30" stroke="#111" stroke-width="0.8"/>
<text x="447.15" y="133.00" font-size="6.60" fill="#222" textLength="10.70" lengthAdjust="spacingAndGlyphs" font-family="Liberation Sans, sans-serif" stroke="#222" stroke-width="0.18">9E9</text>
<text x="444.30" y="140.00" font-size="6.60" fill="#222" textLength="16.40" lengthAdjust="spacingAndGlyphs" font-family="Liberation Sans, sans-serif" stroke="#222" stroke-width="0.18">de-gly</text>
<line x1="482.50" y1="105.50" x2="482.50" y2="99.70" stroke="#333" stroke-width="1.0"/>
<line x1="480.20" y1="99.70" x2="484.80" y2="99.70" stroke="#333" stroke-width="1.1"/>
<rect x="477.40" y="105.50" width="10.20" height="18.80" fill="#fff" stroke="#333" stroke-width="1.0"/>
<line x1="496.25" y1="52.30" x2="496.25" y2="39.40" stroke="#333" stroke-width="1.0"/>
<line x1="493.95" y1="39.40" x2="498.55" y2="39.40" stroke="#333" stroke-width="1.1"/>
<rect x="491.20" y="52.30" width="10.10" height="72.00" fill="#808080" stroke="#333" stroke-width="1.0"/>
<line x1="489.50" y1="124.30" x2="489.50" y2="126.30" stroke="#111" stroke-width="0.8"/>
<text x="484.15" y="133.00" font-size="6.60" fill="#222" textLength="10.70" lengthAdjust="spacingAndGlyphs" font-family="Liberation Sans, sans-serif" stroke="#222" stroke-width="0.18">9E9</text>
<text x="485.20" y="140.00" font-size="6.60" fill="#222" textLength="8.60" lengthAdjust="spacingAndGlyphs" font-family="Liberation Sans, sans-serif" stroke="#222" stroke-width="0.18">WT</text>
<line x1="322.80" y1="124.30" x2="510.80" y2="124.30" stroke="#111" stroke-width="1.1"/>
<line x1="325.60" y1="144.50" x2="396.30" y2="144.50" stroke="#111" stroke-width="1.1"/>
<line x1="401.00" y1="144.50" x2="509.00" y2="144.50" stroke="#111" stroke-width="1.1"/>
<text x="353.85" y="153.00" font-size="6.60" font-weight="bold" fill="#222" textLength="9.20" lengthAdjust="spacingAndGlyphs" font-family="Liberation Sans, sans-serif" stroke="#222" stroke-width="0.18">WT</text>
<text x="439.40" y="153.00" font-size="6.50" font-weight="bold" fill="#222" textLength="31.20" lengthAdjust="spacingAndGlyphs" font-family="Liberation Sans, sans-serif" stroke="#222" stroke-width="0.18">Fc&#947;RIV KO</text>
<text x="388.50" y="11.50" font-size="8.60" font-weight="bold" fill="#111" textLength="54.60" lengthAdjust="spacingAndGlyphs" font-family="Liberation Sans, sans-serif" stroke="#111" stroke-width="0.18">Macrophages</text>
<rect x="476.30" y="4.30" width="6.20" height="5.30" fill="#fff" stroke="#222" stroke-width="1.0"/>
<rect x="476.30" y="12.50" width="6.20" height="5.30" fill="#808080" stroke="#222" stroke-width="1.0"/>
<text x="487.10" y="9.60" font-size="7.30" fill="#222" textLength="28.60" lengthAdjust="spacingAndGlyphs" font-family="Liberation Sans, sans-serif" stroke="#222" stroke-width="0.18">Irrelevant</text>
<text x="487.10" y="17.80" font-size="7.30" fill="#222" textLength="21.90" lengthAdjust="spacingAndGlyphs" font-family="Liberation Sans, sans-serif" stroke="#222" stroke-width="0.18">Fc&#947;RIII</text>
<text x="0" y="0" font-size="10" text-anchor="middle" fill="#222" font-family="Liberation Sans, sans-serif" transform="translate(298.80,66.00) rotate(-90)">Geo MFI (FITC)</text>
<text x="288.90" y="13.50" font-size="11.6" letter-spacing="0.8" fill="#222" stroke="#222" stroke-width="0.35" font-family="Liberation Sans, sans-serif">i</text>
<line x1="322.40" y1="163.40" x2="322.40" y2="278.80" stroke="#111" stroke-width="1.1"/>
<line x1="320.20" y1="163.40" x2="322.40" y2="163.40" stroke="#111" stroke-width="0.9"/>
<text x="306.70" y="165.80" font-size="6.60" font-weight="bold" fill="#222" textLength="12.80" lengthAdjust="spacingAndGlyphs" font-family="Liberation Sans, sans-serif" stroke="#222" stroke-width="0.18">2000</text>
<line x1="320.20" y1="192.30" x2="322.40" y2="192.30" stroke="#111" stroke-width="0.9"/>
<text x="306.70" y="194.70" font-size="6.60" font-weight="bold" fill="#222" textLength="12.80" lengthAdjust="spacingAndGlyphs" font-family="Liberation Sans, sans-serif" stroke="#222" stroke-width="0.18">1500</text>
<line x1="320.20" y1="221.20" x2="322.40" y2="221.20" stroke="#111" stroke-width="0.9"/>
<text x="306.70" y="223.60" font-size="6.60" font-weight="bold" fill="#222" textLength="12.80" lengthAdjust="spacingAndGlyphs" font-family="Liberation Sans, sans-serif" stroke="#222" stroke-width="0.18">1000</text>
<line x1="320.20" y1="250.10" x2="322.40" y2="250.10" stroke="#111" stroke-width="0.9"/>
<text x="309.90" y="252.50" font-size="6.60" font-weight="bold" fill="#222" textLength="9.60" lengthAdjust="spacingAndGlyphs" font-family="Liberation Sans, sans-serif" stroke="#222" stroke-width="0.18">500</text>
<line x1="320.20" y1="279.00" x2="322.40" y2="279.00" stroke="#111" stroke-width="0.9"/>
<text x="316.30" y="281.40" font-size="6.60" font-weight="bold" fill="#222" textLength="3.20" lengthAdjust="spacingAndGlyphs" font-family="Liberation Sans, sans-serif" stroke="#222" stroke-width="0.18">0</text>
<line x1="333.60" y1="270.50" x2="333.60" y2="269.60" stroke="#333" stroke-width="1.0"/>
<line x1="331.30" y1="269.60" x2="335.90" y2="269.60" stroke="#333" stroke-width="1.1"/>
<rect x="328.70" y="270.50" width="9.80" height="8.30" fill="#fff" stroke="#333" stroke-width="1.0"/>
<line x1="347.90" y1="237.20" x2="347.90" y2="233.20" stroke="#333" stroke-width="1.0"/>
<line x1="345.60" y1="233.20" x2="350.20" y2="233.20" stroke="#333" stroke-width="1.1"/>
<rect x="343.00" y="237.20" width="9.80" height="41.60" fill="#808080" stroke="#333" stroke-width="1.0"/>
<line x1="340.90" y1="278.80" x2="340.90" y2="280.80" stroke="#111" stroke-width="0.8"/>
<text x="337.05" y="287.40" font-size="6.60" fill="#222" textLength="7.70" lengthAdjust="spacingAndGlyphs" font-family="Liberation Sans, sans-serif" stroke="#222" stroke-width="0.18">NT</text>
<line x1="370.55" y1="268.30" x2="370.55" y2="267.30" stroke="#333" stroke-width="1.0"/>
<line x1="368.25" y1="267.30" x2="372.85" y2="267.30" stroke="#333" stroke-width="1.1"/>
<rect x="365.70" y="268.30" width="9.70" height="10.50" fill="#fff" stroke="#333" stroke-width="1.0"/>
<line x1="384.60" y1="237.30" x2="384.60" y2="236.50" stroke="#333" stroke-width="1.0"/>
<line x1="382.30" y1="236.50" x2="386.90" y2="236.50" stroke="#333" stroke-width="1.1"/>
<rect x="379.50" y="237.30" width="10.20" height="41.50" fill="#808080" stroke="#333" stroke-width="1.0"/>
<line x1="377.40" y1="278.80" x2="377.40" y2="280.80" stroke="#111" stroke-width="0.8"/>
<text x="372.05" y="287.40" font-size="6.60" fill="#222" textLength="10.70" lengthAdjust="spacingAndGlyphs" font-family="Liberation Sans, sans-serif" stroke="#222" stroke-width="0.18">9E9</text>
<text x="373.10" y="294.50" font-size="6.60" fill="#222" textLength="8.60" lengthAdjust="spacingAndGlyphs" font-family="Liberation Sans, sans-serif" stroke="#222" stroke-width="0.18">WT</text>
<rect x="402.70" y="269.70" width="9.60" height="9.10" fill="#fff" stroke="#333" stroke-width="1.0"/>
<line x1="421.55" y1="225.20" x2="421.55" y2="215.80" stroke="#333" stroke-width="1.0"/>
<line x1="419.25" y1="215.80" x2="423.85" y2="215.80" stroke="#333" stroke-width="1.1"/>
<rect x="416.40" y="225.20" width="10.30" height="53.60" fill="#808080" stroke="#333" stroke-width="1.0"/>
<line x1="414.40" y1="278.80" x2="414.40" y2="280.80" stroke="#111" stroke-width="0.8"/>
<text x="410.55" y="287.40" font-size="6.60" fill="#222" textLength="7.70" lengthAdjust="spacingAndGlyphs" font-family="Liberation Sans, sans-serif" stroke="#222" stroke-width="0.18">NT</text>
<rect x="439.20" y="269.70" width="10.30" height="9.10" fill="#fff" stroke="#333" stroke-width="1.0"/>
<line x1="458.10" y1="227.70" x2="458.10" y2="222.10" stroke="#333" stroke-width="1.0"/>
<line x1="455.80" y1="222.10" x2="460.40" y2="222.10" stroke="#333" stroke-width="1.1"/>
<rect x="453.00" y="227.70" width="10.20" height="51.10" fill="#808080" stroke="#333" stroke-width="1.0"/>
<line x1="451.10" y1="278.80" x2="451.10" y2="280.80" stroke="#111" stroke-width="0.8"/>
<text x="445.75" y="287.40" font-size="6.60" fill="#222" textLength="10.70" lengthAdjust="spacingAndGlyphs" font-family="Liberation Sans, sans-serif" stroke="#222" stroke-width="0.18">9E9</text>
<text x="442.90" y="294.50" font-size="6.60" fill="#222" textLength="16.40" lengthAdjust="spacingAndGlyphs" font-family="Liberation Sans, sans-serif" stroke="#222" stroke-width="0.18">de-gly</text>
<line x1="481.25" y1="268.70" x2="481.25" y2="268.00" stroke="#333" stroke-width="1.0"/>
<line x1="478.95" y1="268.00" x2="483.55" y2="268.00" stroke="#333" stroke-width="1.1"/>
<rect x="476.10" y="268.70" width="10.30" height="10.10" fill="#fff" stroke="#333" stroke-width="1.0"/>
<line x1="495.00" y1="217.80" x2="495.00" y2="212.30" stroke="#333" stroke-width="1.0"/>
<line x1="492.70" y1="212.30" x2="497.30" y2="212.30" stroke="#333" stroke-width="1.1"/>
<rect x="489.90" y="217.80" width="10.20" height="61.00" fill="#808080" stroke="#333" stroke-width="1.0"/>
<line x1="488.00" y1="278.80" x2="488.00" y2="280.80" stroke="#111" stroke-width="0.8"/>
<text x="482.65" y="287.40" font-size="6.60" fill="#222" textLength="10.70" lengthAdjust="spacingAndGlyphs" font-family="Liberation Sans, sans-serif" stroke="#222" stroke-width="0.18">9E9</text>
<text x="483.70" y="294.50" font-size="6.60" fill="#222" textLength="8.60" lengthAdjust="spacingAndGlyphs" font-family="Liberation Sans, sans-serif" stroke="#222" stroke-width="0.18">WT</text>
<line x1="321.90" y1="278.80" x2="508.00" y2="278.80" stroke="#111" stroke-width="1.1"/>
<line x1="324.10" y1="299.20" x2="394.90" y2="299.20" stroke="#111" stroke-width="1.1"/>
<line x1="400.00" y1="299.20" x2="507.50" y2="299.20" stroke="#111" stroke-width="1.1"/>
<text x="352.40" y="307.60" font-size="6.60" font-weight="bold" fill="#222" textLength="9.20" lengthAdjust="spacingAndGlyphs" font-family="Liberation Sans, sans-serif" stroke="#222" stroke-width="0.18">WT</text>
<text x="438.15" y="307.60" font-size="6.50" font-weight="bold" fill="#222" textLength="31.20" lengthAdjust="spacingAndGlyphs" font-family="Liberation Sans, sans-serif" stroke="#222" stroke-width="0.18">Fc&#947;RIV KO</text>
<text x="392.80" y="168.70" font-size="8.60" font-weight="bold" fill="#111" textLength="43.70" lengthAdjust="spacingAndGlyphs" font-family="Liberation Sans, sans-serif" stroke="#111" stroke-width="0.18">Monocytes</text>
<rect x="474.30" y="167.90" width="7.70" height="6.70" fill="#fff" stroke="#222" stroke-width="1.0"/>
<rect x="474.30" y="176.50" width="7.70" height="7.00" fill="#808080" stroke="#222" stroke-width="1.0"/>
<text x="485.40" y="173.70" font-size="7.40" fill="#222" textLength="31.70" lengthAdjust="spacingAndGlyphs" font-family="Liberation Sans, sans-serif" stroke="#222" stroke-width="0.18">Irrelevant</text>
<text x="485.40" y="182.80" font-size="7.40" fill="#222" textLength="24.50" lengthAdjust="spacingAndGlyphs" font-family="Liberation Sans, sans-serif" stroke="#222" stroke-width="0.18">Fc &#947;RIII</text>
<text x="0" y="0" font-size="10" text-anchor="middle" fill="#222" font-family="Liberation Sans, sans-serif" transform="translate(298.50,223.50) rotate(-90)">Geo MFI (FITC)</text>
<text x="287.30" y="159.30" font-size="11.6" letter-spacing="0.8" fill="#222" stroke="#222" stroke-width="0.35" font-family="Liberation Sans, sans-serif">ii</text>
<line x1="322.80" y1="327.50" x2="322.80" y2="443.00" stroke="#111" stroke-width="1.1"/>
<line x1="320.60" y1="327.50" x2="322.80" y2="327.50" stroke="#111" stroke-width="0.9"/>
<text x="307.10" y="329.90" font-size="6.60" font-weight="bold" fill="#222" textLength="12.80" lengthAdjust="spacingAndGlyphs" font-family="Liberation Sans, sans-serif" stroke="#222" stroke-width="0.18">1500</text>
<line x1="320.60" y1="366.10" x2="322.80" y2="366.10" stroke="#111" stroke-width="0.9"/>
<text x="307.10" y="368.50" font-size="6.60" font-weight="bold" fill="#222" textLength="12.80" lengthAdjust="spacingAndGlyphs" font-family="Liberation Sans, sans-serif" stroke="#222" stroke-width="0.18">1000</text>
<line x1="320.60" y1="404.70" x2="322.80" y2="404.70" stroke="#111" stroke-width="0.9"/>
<text x="310.30" y="407.10" font-size="6.60" font-weight="bold" fill="#222" textLength="9.60" lengthAdjust="spacingAndGlyphs" font-family="Liberation Sans, sans-serif" stroke="#222" stroke-width="0.18">500</text>
<line x1="320.60" y1="443.30" x2="322.80" y2="443.30" stroke="#111" stroke-width="0.9"/>
<text x="316.70" y="445.70" font-size="6.60" font-weight="bold" fill="#222" textLength="3.20" lengthAdjust="spacingAndGlyphs" font-family="Liberation Sans, sans-serif" stroke="#222" stroke-width="0.18">0</text>
<line x1="334.90" y1="432.60" x2="334.90" y2="429.30" stroke="#333" stroke-width="1.0"/>
<line x1="332.60" y1="429.30" x2="337.20" y2="429.30" stroke="#333" stroke-width="1.1"/>
<rect x="330.00" y="432.60" width="9.80" height="10.40" fill="#fff" stroke="#333" stroke-width="1.0"/>
<line x1="348.80" y1="391.10" x2="348.80" y2="386.60" stroke="#333" stroke-width="1.0"/>
<line x1="346.50" y1="386.60" x2="351.10" y2="386.60" stroke="#333" stroke-width="1.1"/>
<rect x="343.70" y="391.10" width="10.20" height="51.90" fill="#808080" stroke="#333" stroke-width="1.0"/>
<line x1="341.80" y1="443.00" x2="341.80" y2="445.00" stroke="#111" stroke-width="0.8"/>
<text x="337.95" y="451.70" font-size="6.60" fill="#222" textLength="7.70" lengthAdjust="spacingAndGlyphs" font-family="Liberation Sans, sans-serif" stroke="#222" stroke-width="0.18">NT</text>
<line x1="371.60" y1="432.80" x2="371.60" y2="427.50" stroke="#333" stroke-width="1.0"/>
<line x1="369.30" y1="427.50" x2="373.90" y2="427.50" stroke="#333" stroke-width="1.1"/>
<rect x="366.70" y="432.80" width="9.80" height="10.20" fill="#fff" stroke="#333" stroke-width="1.0"/>
<line x1="385.75" y1="412.80" x2="385.75" y2="409.90" stroke="#333" stroke-width="1.0"/>
<line x1="383.45" y1="409.90" x2="388.05" y2="409.90" stroke="#333" stroke-width="1.1"/>
<rect x="380.80" y="412.80" width="9.90" height="30.20" fill="#808080" stroke="#333" stroke-width="1.0"/>
<line x1="378.60" y1="443.00" x2="378.60" y2="445.00" stroke="#111" stroke-width="0.8"/>
<text x="373.25" y="451.70" font-size="6.60" fill="#222" textLength="10.70" lengthAdjust="spacingAndGlyphs" font-family="Liberation Sans, sans-serif" stroke="#222" stroke-width="0.18">9E9</text>
<text x="374.30" y="459.00" font-size="6.60" fill="#222" textLength="8.60" lengthAdjust="spacingAndGlyphs" font-family="Liberation Sans, sans-serif" stroke="#222" stroke-width="0.18">WT</text>
<rect x="403.50" y="434.10" width="9.80" height="8.90" fill="#fff" stroke="#333" stroke-width="1.0"/>
<line x1="422.90" y1="365.30" x2="422.90" y2="348.50" stroke="#333" stroke-width="1.0"/>
<line x1="420.60" y1="348.50" x2="425.20" y2="348.50" stroke="#333" stroke-width="1.1"/>
<rect x="418.10" y="365.30" width="9.60" height="77.70" fill="#808080" stroke="#333" stroke-width="1.0"/>
<line x1="415.50" y1="443.00" x2="415.50" y2="445.00" stroke="#111" stroke-width="0.8"/>
<text x="411.65" y="451.70" font-size="6.60" fill="#222" textLength="7.70" lengthAdjust="spacingAndGlyphs" font-family="Liberation Sans, sans-serif" stroke="#222" stroke-width="0.18">NT</text>
<rect x="440.60" y="433.90" width="10.00" height="9.10" fill="#fff" stroke="#333" stroke-width="1.0"/>
<line x1="459.20" y1="370.90" x2="459.20" y2="366.70" stroke="#333" stroke-width="1.0"/>
<line x1="456.90" y1="366.70" x2="461.50" y2="366.70" stroke="#333" stroke-width="1.1"/>
<rect x="454.20" y="370.90" width="10.00" height="72.10" fill="#808080" stroke="#333" stroke-width="1.0"/>
<line x1="452.40" y1="443.00" x2="452.40" y2="445.00" stroke="#111" stroke-width="0.8"/>
<text x="447.05" y="451.70" font-size="6.60" fill="#222" textLength="10.70" lengthAdjust="spacingAndGlyphs" font-family="Liberation Sans, sans-serif" stroke="#222" stroke-width="0.18">9E9</text>
<text x="444.20" y="459.00" font-size="6.60" fill="#222" textLength="16.40" lengthAdjust="spacingAndGlyphs" font-family="Liberation Sans, sans-serif" stroke="#222" stroke-width="0.18">de-gly</text>
<rect x="477.60" y="434.80" width="10.00" height="8.20" fill="#fff" stroke="#333" stroke-width="1.0"/>
<line x1="496.65" y1="360.30" x2="496.65" y2="355.20" stroke="#333" stroke-width="1.0"/>
<line x1="494.35" y1="355.20" x2="498.95" y2="355.20" stroke="#333" stroke-width="1.1"/>
<rect x="491.50" y="360.30" width="10.30" height="82.70" fill="#808080" stroke="#333" stroke-width="1.0"/>
<line x1="489.40" y1="443.00" x2="489.40" y2="445.00" stroke="#111" stroke-width="0.8"/>
<text x="484.05" y="451.70" font-size="6.60" fill="#222" textLength="10.70" lengthAdjust="spacingAndGlyphs" font-family="Liberation Sans, sans-serif" stroke="#222" stroke-width="0.18">9E9</text>
<text x="485.10" y="459.00" font-size="6.60" fill="#222" textLength="8.60" lengthAdjust="spacingAndGlyphs" font-family="Liberation Sans, sans-serif" stroke="#222" stroke-width="0.18">WT</text>
<line x1="322.30" y1="443.00" x2="509.40" y2="443.00" stroke="#111" stroke-width="1.1"/>
<line x1="326.00" y1="464.50" x2="396.00" y2="464.50" stroke="#111" stroke-width="1.1"/>
<line x1="401.00" y1="464.50" x2="509.40" y2="464.50" stroke="#111" stroke-width="1.1"/>
<text x="353.90" y="473.40" font-size="6.60" font-weight="bold" fill="#222" textLength="9.20" lengthAdjust="spacingAndGlyphs" font-family="Liberation Sans, sans-serif" stroke="#222" stroke-width="0.18">WT</text>
<text x="438.40" y="473.40" font-size="6.50" font-weight="bold" fill="#222" textLength="31.20" lengthAdjust="spacingAndGlyphs" font-family="Liberation Sans, sans-serif" stroke="#222" stroke-width="0.18">Fc&#947;RIV KO</text>
<text x="392.10" y="330.60" font-size="8.60" font-weight="bold" fill="#111" textLength="46.60" lengthAdjust="spacingAndGlyphs" font-family="Liberation Sans, sans-serif" stroke="#111" stroke-width="0.18">Neutrophils</text>
<rect x="476.00" y="322.80" width="6.50" height="6.20" fill="#fff" stroke="#222" stroke-width="1.0"/>
<rect x="476.00" y="332.00" width="6.50" height="6.40" fill="#808080" stroke="#222" stroke-width="1.0"/>
<text x="487.10" y="328.60" font-size="7.40" fill="#222" textLength="31.90" lengthAdjust="spacingAndGlyphs" font-family="Liberation Sans, sans-serif" stroke="#222" stroke-width="0.18">Irrelevant</text>
<text x="487.10" y="337.70" font-size="7.40" fill="#222" textLength="22.80" lengthAdjust="spacingAndGlyphs" font-family="Liberation Sans, sans-serif" stroke="#222" stroke-width="0.18">Fc&#947;RIII</text>
<text x="0" y="0" font-size="10" text-anchor="middle" fill="#222" font-family="Liberation Sans, sans-serif" transform="translate(299.20,387.90) rotate(-90)">Geo MFI (FITC)</text>
<text x="286.80" y="323.00" font-size="11.6" letter-spacing="0.8" fill="#222" stroke="#222" stroke-width="0.35" font-family="Liberation Sans, sans-serif">iii</text>
<path d="M35.70,350.00 C36.25,348.57 38.25,347.67 40.30,346.90 C42.35,346.13 45.43,345.78 48.00,345.40 C50.57,345.02 53.40,345.12 55.70,344.60 C58.00,344.08 59.75,343.07 61.80,342.30 C63.85,341.53 65.93,340.52 68.00,340.00 C70.07,339.48 71.90,339.33 74.20,339.20 C76.50,339.07 78.73,339.15 81.80,339.20 C84.87,339.25 88.73,339.15 92.60,339.50 C96.47,339.85 100.27,340.22 105.00,341.30 C109.73,342.38 115.67,344.72 121.00,346.00 C126.33,347.28 132.55,348.57 137.00,349.00 C141.45,349.43 144.80,348.02 147.70,348.60 C150.60,349.18 152.15,350.67 154.40,352.50 C156.65,354.33 158.47,356.97 161.20,359.60 C163.93,362.23 168.08,365.73 170.80,368.30 C173.52,370.87 176.22,372.92 177.50,375.00 C178.78,377.08 178.98,378.88 178.50,380.80 C178.02,382.72 176.53,385.07 174.60,386.50 C172.67,387.93 171.38,388.92 166.90,389.40 C162.42,389.88 153.47,389.55 147.70,389.40 C141.93,389.25 136.47,388.47 132.30,388.50 C128.13,388.53 126.55,388.75 122.70,389.60 C118.85,390.45 113.18,392.73 109.20,393.60 C105.22,394.47 102.08,394.82 98.80,394.80 C95.52,394.78 92.33,394.10 89.50,393.50 C86.67,392.90 84.35,392.10 81.80,391.20 C79.25,390.30 76.75,389.10 74.20,388.10 C71.65,387.10 69.07,385.95 66.50,385.20 C63.93,384.45 61.37,384.13 58.80,383.60 C56.23,383.07 53.67,382.78 51.10,382.00 C48.53,381.22 45.72,380.07 43.40,378.90 C41.08,377.73 39.00,376.42 37.20,375.00 C35.40,373.58 33.50,371.82 32.60,370.40 C31.70,368.98 31.42,368.03 31.80,366.50 C32.18,364.97 34.03,363.03 34.90,361.20 C35.77,359.37 36.87,357.37 37.00,355.50 C37.13,353.63 35.15,351.43 35.70,350.00 Z" fill="#c6e0b4" stroke="#4f6b50" stroke-width="1.1"/>
<path d="M35.80,438.50 C37.30,437.65 39.50,437.45 42.50,436.80 C45.50,436.15 50.88,435.40 53.80,434.60 C56.72,433.80 57.68,432.73 60.00,432.00 C62.32,431.27 64.37,430.53 67.70,430.20 C71.03,429.87 76.15,429.78 80.00,430.00 C83.85,430.22 86.97,430.87 90.80,431.50 C94.63,432.13 98.90,432.90 103.00,433.80 C107.10,434.70 111.80,436.03 115.40,436.90 C119.00,437.77 121.53,438.65 124.60,439.00 C127.67,439.35 130.08,439.08 133.80,439.00 C137.52,438.92 143.22,437.48 146.90,438.50 C150.58,439.52 152.60,442.20 155.90,445.10 C159.20,448.00 163.70,453.05 166.70,455.90 C169.70,458.75 172.10,459.95 173.90,462.20 C175.70,464.45 177.50,467.15 177.50,469.40 C177.50,471.65 176.30,474.03 173.90,475.70 C171.50,477.37 167.90,478.63 163.10,479.40 C158.30,480.17 151.52,479.95 145.10,480.30 C138.68,480.65 129.82,480.78 124.60,481.50 C119.38,482.22 117.13,483.95 113.80,484.60 C110.47,485.25 108.43,485.67 104.60,485.40 C100.77,485.13 95.67,484.28 90.80,483.00 C85.93,481.72 80.07,478.92 75.40,477.70 C70.73,476.48 66.78,476.60 62.80,475.70 C58.82,474.80 55.45,473.52 51.50,472.30 C47.55,471.08 42.47,469.90 39.10,468.40 C35.73,466.90 32.98,464.82 31.30,463.30 C29.62,461.78 29.00,460.62 29.00,459.30 C29.00,457.98 30.37,456.80 31.30,455.40 C32.23,454.00 34.13,452.40 34.60,450.90 C35.07,449.40 34.28,447.90 34.10,446.40 C33.92,444.90 33.22,443.22 33.50,441.90 C33.78,440.58 34.30,439.35 35.80,438.50 Z" fill="#c6e0b4" stroke="#4f6b50" stroke-width="1.1"/>
<ellipse cx="106.6" cy="370.8" rx="13.2" ry="11.1" fill="#acaaac" stroke="#5a5f5a" stroke-width="1.1"/>
<ellipse cx="105.6" cy="463.8" rx="13.3" ry="10.8" fill="#acaaac" stroke="#5a5f5a" stroke-width="1.1"/>
<line x1="84.40" y1="336.80" x2="84.40" y2="351.50" stroke="#3d5550" stroke-width="0.85"/>
<line x1="88.40" y1="336.80" x2="88.40" y2="351.50" stroke="#3d5550" stroke-width="0.85"/>
<line x1="92.40" y1="336.50" x2="92.40" y2="349.50" stroke="#3d5550" stroke-width="0.85"/>
<ellipse cx="84.20" cy="353.00" rx="2.10" ry="1.65" fill="#234c6c" stroke="#163040" stroke-width="0.4"/>
<ellipse cx="88.80" cy="353.00" rx="2.10" ry="1.65" fill="#234c6c" stroke="#163040" stroke-width="0.4"/>
<path d="M90.5,329.2 C95,323 112,321 117.5,328.2 C111,334.5 96,334.5 90.5,329.2 Z" fill="#f6f6f8" stroke="#8a8a94" stroke-width="0.8"/>
<path d="M92.5,332 C100,326.5 110,325.5 116,329.5" fill="none" stroke="#9a9aa4" stroke-width="0.6"/>
<ellipse cx="106.7" cy="330.5" rx="4.4" ry="4.6" fill="#b8203c" stroke="#7a1020" stroke-width="0.5"/>
<path d="M102.6,332.2 C105,334.2 108.5,334.2 110.8,332.2" fill="none" stroke="#fff" stroke-width="0.9"/>
<ellipse cx="92.3" cy="332.8" rx="4.0" ry="4.1" fill="#e2203a" stroke="#a81525" stroke-width="0.6"/>
<line x1="117" y1="328.2" x2="121" y2="323" stroke="#999" stroke-width="0.8"/>
<line x1="117" y1="328.6" x2="120" y2="334.5" stroke="#999" stroke-width="0.8"/>
<g transform="translate(125.30,318.90) rotate(-38.0)"><rect x="-6.25" y="-2.80" width="12.50" height="5.60" fill="#e6ddcc" stroke="#8a7a6a" stroke-width="0.7"/><path d="M-4.75,-1.80 L-2.08,1.80 L2.08,-1.80 L4.75,1.80" fill="none" stroke="#8a7a66" stroke-width="1.0"/></g>
<g transform="translate(123.50,339.30) rotate(45.0)"><rect x="-5.75" y="-3.10" width="11.50" height="6.20" fill="#dba070" stroke="#8a7a6a" stroke-width="0.7"/><path d="M-4.25,-2.10 L-1.92,2.10 L1.92,-2.10 L4.25,2.10" fill="none" stroke="#9a5420" stroke-width="1.0"/></g>
<path d="M128.00,335.50 Q132.50,330.50 137.20,337.00" fill="none" stroke="#8a8a8a" stroke-width="0.70"/>
<line x1="138.00" y1="346.00" x2="138.00" y2="360.00" stroke="#3d5550" stroke-width="0.85"/>
<line x1="141.70" y1="346.00" x2="141.70" y2="360.00" stroke="#3d5550" stroke-width="0.85"/>
<line x1="145.60" y1="346.00" x2="145.60" y2="360.00" stroke="#3d5550" stroke-width="0.85"/>
<ellipse cx="141.30" cy="361.50" rx="2.10" ry="1.65" fill="#234c6c" stroke="#163040" stroke-width="0.4"/>
<ellipse cx="145.70" cy="361.50" rx="2.10" ry="1.65" fill="#234c6c" stroke="#163040" stroke-width="0.4"/>
<ellipse cx="138.0" cy="341.2" rx="4.0" ry="4.7" fill="#ec7a22" stroke="#b85a10" stroke-width="0.6"/>
<path d="M55.50,418.30 Q60.50,412.50 66.00,419.00" fill="none" stroke="#8a8a8a" stroke-width="0.70"/>
<line x1="66.60" y1="427.50" x2="66.60" y2="441.00" stroke="#3d5550" stroke-width="0.85"/>
<line x1="70.10" y1="428.50" x2="70.10" y2="441.00" stroke="#3d5550" stroke-width="0.85"/>
<line x1="73.60" y1="428.50" x2="73.60" y2="441.00" stroke="#3d5550" stroke-width="0.85"/>
<ellipse cx="70.10" cy="443.10" rx="1.90" ry="1.50" fill="#234c6c" stroke="#163040" stroke-width="0.4"/>
<ellipse cx="73.60" cy="443.10" rx="1.90" ry="1.50" fill="#234c6c" stroke="#163040" stroke-width="0.4"/>
<ellipse cx="54.0" cy="421.8" rx="3.6" ry="3.9" fill="#e2203a" stroke="#a81525" stroke-width="0.6"/>
<ellipse cx="66.4" cy="423.1" rx="3.4" ry="4.4" fill="#e2203a" stroke="#a81525" stroke-width="0.6"/>
<path d="M129.20,425.80 Q133.50,422.00 137.60,428.00" fill="none" stroke="#8a8a8a" stroke-width="0.70"/>
<line x1="138.20" y1="436.50" x2="138.20" y2="451.00" stroke="#3d5550" stroke-width="0.85"/>
<line x1="141.80" y1="436.50" x2="141.80" y2="451.00" stroke="#3d5550" stroke-width="0.85"/>
<line x1="145.10" y1="436.50" x2="145.10" y2="451.00" stroke="#3d5550" stroke-width="0.85"/>
<ellipse cx="141.50" cy="452.30" rx="1.90" ry="1.50" fill="#234c6c" stroke="#163040" stroke-width="0.4"/>
<ellipse cx="145.10" cy="452.30" rx="1.90" ry="1.50" fill="#234c6c" stroke="#163040" stroke-width="0.4"/>
<ellipse cx="137.9" cy="432.0" rx="3.5" ry="4.4" fill="#ec7a22" stroke="#b85a10" stroke-width="0.6"/>
<path d="M127.0,418.8 C130,411 139,406 146.5,407.0 C146,412.5 137,418.5 127.0,418.8 Z" fill="#fafafc" stroke="#9a98a8" stroke-width="0.8"/>
<path d="M129,417 C134,412 140,409 145.5,408.2" fill="none" stroke="#a8a6b4" stroke-width="0.6"/>
<line x1="126.8" y1="418.8" x2="122.5" y2="415.6" stroke="#999" stroke-width="0.7"/>
<line x1="126.8" y1="418.8" x2="126.3" y2="424.0" stroke="#999" stroke-width="0.7"/>
<g transform="translate(116.00,414.00) rotate(12.0)"><rect x="-6.75" y="-2.80" width="13.50" height="5.60" fill="#e4dccf" stroke="#8a7a6a" stroke-width="0.7"/><path d="M-5.25,-1.80 L-2.25,1.80 L2.25,-1.80 L5.25,1.80" fill="none" stroke="#7a6050" stroke-width="1.0"/></g>
<g transform="translate(126.60,429.50) rotate(-72.0)"><rect x="-5.50" y="-3.00" width="11.00" height="6.00" fill="#e2c8a6" stroke="#8a7a6a" stroke-width="0.7"/><path d="M-4.00,-2.00 L-1.83,2.00 L1.83,-2.00 L4.00,2.00" fill="none" stroke="#8a5a30" stroke-width="1.0"/></g>
<text x="12.70" y="339.80" font-size="12.20" fill="#1a1a1a" textLength="21.30" lengthAdjust="spacingAndGlyphs" font-family="Liberation Sans, sans-serif" stroke="#1a1a1a" stroke-width="0.18">9E9</text>
<text x="9.90" y="407.50" font-size="12.10" fill="#1a1a1a" textLength="60.00" lengthAdjust="spacingAndGlyphs" font-family="Liberation Sans, sans-serif" stroke="#1a1a1a" stroke-width="0.18">De&#8202;-&#8202;gly9E9</text>
<text x="191.90" y="329.60" font-size="10.00" font-weight="bold" fill="#111" textLength="18.50" lengthAdjust="spacingAndGlyphs" font-family="Liberation Sans, sans-serif" stroke="#111" stroke-width="0.40">Key</text>
<path d="M201.80,344.30 Q205.30,340.80 208.40,344.60" fill="none" stroke="#999" stroke-width="0.60"/>
<line x1="208.50" y1="351.00" x2="208.50" y2="360.20" stroke="#a4aebb" stroke-width="0.60"/>
<line x1="211.30" y1="351.00" x2="211.30" y2="360.20" stroke="#a4aebb" stroke-width="0.60"/>
<line x1="213.60" y1="351.00" x2="213.60" y2="360.20" stroke="#a4aebb" stroke-width="0.60"/>
<ellipse cx="211.30" cy="361.80" rx="1.45" ry="1.15" fill="#1c2e48" stroke="#163040" stroke-width="0.4"/>
<ellipse cx="214.00" cy="361.80" rx="1.45" ry="1.15" fill="#1c2e48" stroke="#163040" stroke-width="0.4"/>
<ellipse cx="200.0" cy="346.9" rx="2.75" ry="3.05" fill="#e2203a" stroke="#a81525" stroke-width="0.5"/>
<ellipse cx="208.8" cy="347.6" rx="2.75" ry="3.2" fill="#e2203a" stroke="#a81525" stroke-width="0.5"/>
<text x="225.30" y="356.50" font-size="10.10" fill="#222" textLength="30.20" lengthAdjust="spacingAndGlyphs" font-family="Liberation Sans, sans-serif" stroke="#222" stroke-width="0.18">Fc&#947;RIII</text>
<path d="M200.60,366.90 Q203.40,364.60 206.50,366.80" fill="none" stroke="#999" stroke-width="0.60"/>
<line x1="207.40" y1="375.50" x2="207.40" y2="386.00" stroke="#a4aebb" stroke-width="0.55"/>
<line x1="209.90" y1="376.20" x2="209.90" y2="385.70" stroke="#a4aebb" stroke-width="0.55"/>
<line x1="210.90" y1="376.20" x2="210.90" y2="385.70" stroke="#a4aebb" stroke-width="0.55"/>
<line x1="213.20" y1="376.20" x2="213.20" y2="385.70" stroke="#a4aebb" stroke-width="0.55"/>
<ellipse cx="210.30" cy="388.80" rx="1.60" ry="1.40" fill="#1c4a78" stroke="#163040" stroke-width="0.4"/>
<ellipse cx="213.40" cy="388.80" rx="1.60" ry="1.40" fill="#1c4a78" stroke="#163040" stroke-width="0.4"/>
<ellipse cx="0" cy="0" rx="3.1" ry="3.5" fill="#ec7a22" stroke="#b85a10" stroke-width="0.5" transform="translate(198.0,371.0) rotate(15)"/>
<ellipse cx="207.7" cy="371.7" rx="2.8" ry="3.85" fill="#ec7a22" stroke="#b85a10" stroke-width="0.5"/>
<text x="225.30" y="383.50" font-size="9.80" fill="#222" textLength="31.20" lengthAdjust="spacingAndGlyphs" font-family="Liberation Sans, sans-serif" stroke="#222" stroke-width="0.18">Fc&#947;RIV</text>
<path d="M192.5,409.3 C197,405.6 205,405.6 209.3,409.2 C205,412.8 197,412.8 192.5,409.3 Z" fill="#f4f4f4" stroke="#4a4a4a" stroke-width="0.9"/>
<ellipse cx="198.8" cy="409.3" rx="2.0" ry="1.5" fill="#fff" stroke="#888" stroke-width="0.5"/>
<ellipse cx="205.2" cy="409.3" rx="1.9" ry="1.4" fill="#fff" stroke="#888" stroke-width="0.5"/>
<ellipse cx="202.1" cy="409.3" rx="1.0" ry="1.7" fill="#2a2a2a"/>
<g transform="translate(213.40,403.70) rotate(-38.0)"><rect x="-4.50" y="-1.80" width="9.00" height="3.60" fill="#cfcac0" stroke="#444" stroke-width="0.7"/><path d="M-3.00,-0.80 L-1.50,0.80 L1.50,-0.80 L3.00,0.80" fill="none" stroke="#333" stroke-width="1.0"/></g>
<g transform="translate(213.40,415.00) rotate(38.0)"><rect x="-4.50" y="-1.80" width="9.00" height="3.60" fill="#cfcac0" stroke="#444" stroke-width="0.7"/><path d="M-3.00,-0.80 L-1.50,0.80 L1.50,-0.80 L3.00,0.80" fill="none" stroke="#333" stroke-width="1.0"/></g>
<text x="223.40" y="410.80" font-size="10.20" fill="#222" textLength="17.50" lengthAdjust="spacingAndGlyphs" font-family="Liberation Sans, sans-serif" stroke="#222" stroke-width="0.18">9E9</text>
<path d="M192.80,433.80 C192.92,432.42 192.57,430.32 193.50,429.00 C194.43,427.68 196.67,426.37 198.40,425.90 C200.13,425.43 202.28,425.85 203.90,426.20 C205.52,426.55 206.72,427.58 208.10,428.00 C209.48,428.42 210.93,428.18 212.20,428.70 C213.47,429.22 214.65,430.02 215.70,431.10 C216.75,432.18 217.92,433.93 218.50,435.20 C219.08,436.47 219.67,437.88 219.20,438.70 C218.73,439.52 217.08,439.63 215.70,440.10 C214.32,440.57 212.75,441.03 210.90,441.50 C209.05,441.97 206.45,442.78 204.60,442.90 C202.75,443.02 201.30,442.67 199.80,442.20 C198.30,441.73 196.77,440.92 195.60,440.10 C194.43,439.28 193.27,438.35 192.80,437.30 C192.33,436.25 192.68,435.18 192.80,433.80 Z" fill="#cde4c0" stroke="#7f9a7a" stroke-width="0.8"/>
<ellipse cx="206.4" cy="435.5" rx="1.9" ry="3.2" fill="#a8aaa8" stroke="#6f7f6f" stroke-width="0.7"/>
<text x="224.60" y="439.60" font-size="10.40" fill="#222" textLength="50.60" lengthAdjust="spacingAndGlyphs" font-family="Liberation Sans, sans-serif" stroke="#222" stroke-width="0.18">Effector cell</text>
</svg>
</body></html>
